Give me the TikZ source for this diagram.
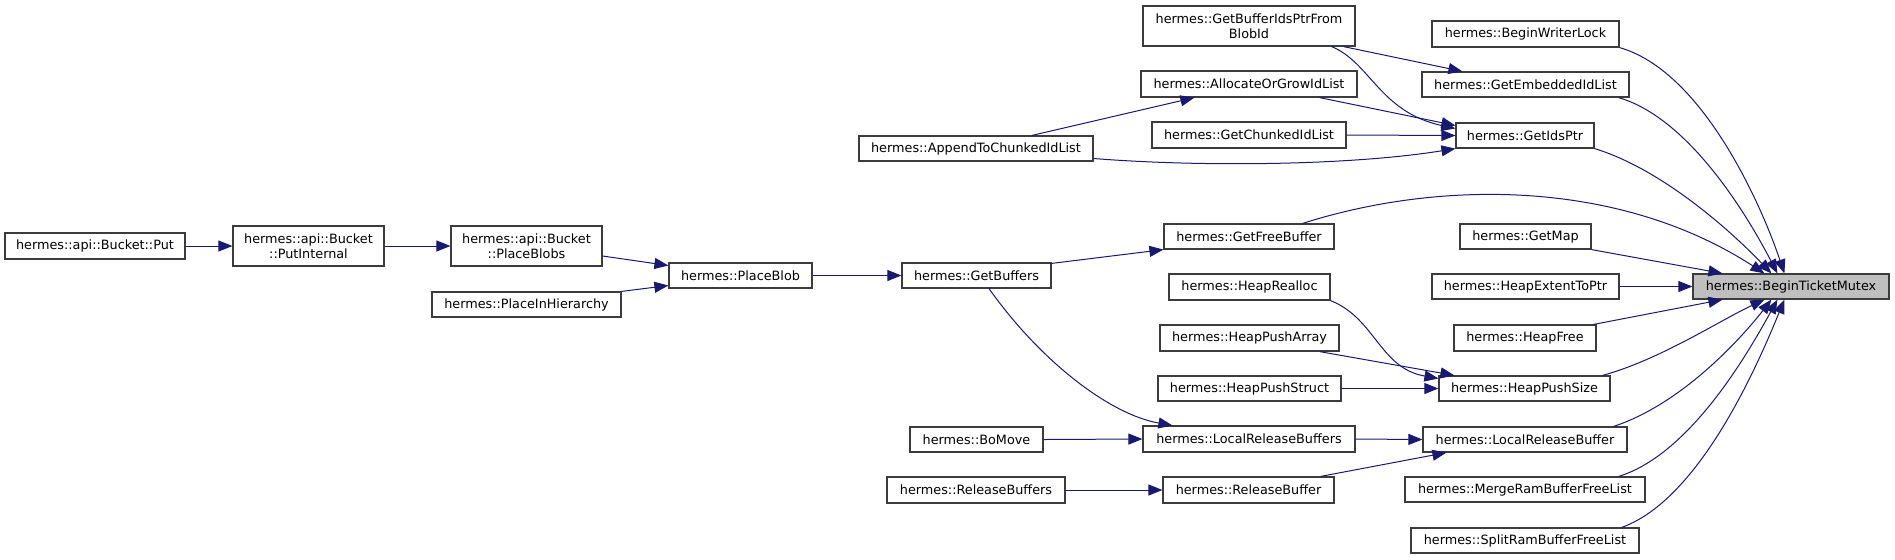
\documentclass[tikz,border=0pt]{standalone}
\usepackage{fontspec}
\setmainfont{DejaVu Sans}
\usetikzlibrary{arrows.meta,calc}
\definecolor{edgecol}{RGB}{25,25,112}
\definecolor{nodeborder}{RGB}{60,60,60}
\definecolor{hilite}{RGB}{191,191,191}
\begin{document}
\begin{tikzpicture}[x=0.5pt,y=-0.5pt,
  fn/.style={draw=nodeborder, fill=white, line width=0.6pt, inner sep=0pt, align=center,
    font=\fontsize{6.4}{7.5}\selectfont},
  sz/.style 2 args={minimum width=#1*0.5pt, minimum height=#2*0.5pt},
  ed/.style={draw=edgecol, line width=0.5pt, -{Triangle[length=7pt,width=5.5pt]}}]
\useasboundingbox (0,0) rectangle (1895,559);
% nodes
\node[fn,sz={180}{26}] (put) at (95,246) {hermes::api::Bucket::Put};
\node[fn,sz={151}{40}] (putint) at (308.5,246) {hermes::api::Bucket\\::PutInternal};
\node[fn,sz={151}{40}] (placeblobs) at (526.5,246) {hermes::api::Bucket\\::PlaceBlobs};
\node[fn,sz={189}{25}] (placeinh) at (526.5,304.5) {hermes::PlaceInHierarchy};
\node[fn,sz={143}{25}] (placeblob) at (740.5,275.5) {hermes::PlaceBlob};
\node[fn,sz={149}{25}] (getbuffers) at (976.5,275.5) {hermes::GetBuffers};
\node[fn,sz={234}{25}] (append) at (976,148.5) {hermes::AppendToChunkedIdList};
\node[fn,sz={133}{25}] (bomove) at (976.5,439.5) {hermes::BoMove};
\node[fn,sz={178}{26}] (relbufs) at (976,490) {hermes::ReleaseBuffers};
\node[fn,sz={212}{40}] (getbufids) at (1249,26) {hermes::GetBufferIdsPtrFrom\\BlobId};
\node[fn,sz={216}{26}] (alloc) at (1249,84) {hermes::AllocateOrGrowIdList};
\node[fn,sz={194}{26}] (getchunked) at (1249,135) {hermes::GetChunkedIdList};
\node[fn,sz={170}{25}] (getfree) at (1249,236.5) {hermes::GetFreeBuffer};
\node[fn,sz={161}{26}] (realloc) at (1249.5,287) {hermes::HeapRealloc};
\node[fn,sz={179}{26}] (pusharray) at (1249.5,338) {hermes::HeapPushArray};
\node[fn,sz={183}{25}] (pushstruct) at (1249.5,388.5) {hermes::HeapPushStruct};
\node[fn,sz={212}{26}] (localrelbufs) at (1249,439) {hermes::LocalReleaseBuffers};
\node[fn,sz={171}{26}] (relbuf) at (1248.5,490) {hermes::ReleaseBuffer};
\node[fn,sz={187}{26}] (writerlock) at (1525.5,34) {hermes::BeginWriterLock};
\node[fn,sz={207}{25}] (embedded) at (1525.5,84.5) {hermes::GetEmbeddedIdList};
\node[fn,sz={138}{25}] (getidsptr) at (1525,135.5) {hermes::GetIdsPtr};
\node[fn,sz={131}{25}] (getmap) at (1525.5,236.5) {hermes::GetMap};
\node[fn,sz={187}{25}] (heapextent) at (1525.5,286.5) {hermes::HeapExtentToPtr};
\node[fn,sz={142}{26}] (heapfree) at (1525,338) {hermes::HeapFree};
\node[fn,sz={171}{25}] (pushsize) at (1524.5,388.5) {hermes::HeapPushSize};
\node[fn,sz={204}{25}] (localrelbuf) at (1525,439.5) {hermes::LocalReleaseBuffer};
\node[fn,sz={240}{25}] (merge) at (1525,489.5) {hermes::MergeRamBufferFreeList};
\node[fn,sz={228}{25}] (split) at (1525,540.5) {hermes::SplitRamBufferFreeList};
\node[fn,fill=hilite,sz={196}{25}] (mutex) at (1791,286.5) {hermes::BeginTicketMutex};
% edges
\draw[ed] (put.east) -- (putint.west);
\draw[ed] (putint.east) -- (placeblobs.west);
\draw[ed] ($(placeblobs.east)+(0,10)$) -- ($(placeblob.west)+(0,-10)$);
\draw[ed] (placeinh.north east) -- ($(placeblob.west)+(0,10)$);
\draw[ed] (placeblob.east) -- (getbuffers.west);
\draw[ed] ($(getbuffers.north east)+(0,1)$) -- (getfree.south west);
\draw[ed] ($(getbuffers.south)+(12.5,0)$) .. controls +(51,72) and +(-63,-11) .. ($(localrelbufs.north west)+(30,0)$);
\draw[ed] (bomove.east) -- (localrelbufs.west);
\draw[ed] (relbufs.east) -- (relbuf.west);
\draw[ed] (localrelbufs.east) -- (localrelbuf.west);
\draw[ed] ($(relbuf.north east)+(-14,0)$) -- ($(localrelbuf.south west)+(24,0)$);
\draw[ed] ($(append.north)+(56,0)$) -- ($(alloc.south west)+(54,0)$);
\draw[ed] ($(append.east)+(0,10)$) .. controls +(107,8.5) and +(-106,17) .. (getidsptr.south west);
\draw[ed] ($(alloc.south east)+(-38,0)$) -- ($(getidsptr.west)+(0,-10)$);
\draw[ed] (getchunked.east) -- (getidsptr.west);
\draw[ed] ($(getbufids.south east)+(-24,0)$) .. controls +(39,16) and +(-76,-16.5) .. ($(getidsptr.west)+(0,-7)$);
\draw[ed] ($(getbufids.south east)+(-12,0)$) -- ($(embedded.north west)+(41,0)$);
\draw[ed] (realloc.south east) .. controls +(45,18) and +(-59,-10.5) .. ($(pushsize.west)+(0,-10)$);
\draw[ed] ($(pusharray.south east)+(-20,0)$) -- ($(pushsize.north west)+(16,0)$);
\draw[ed] (pushstruct.east) -- (pushsize.west);
% into BeginTicketMutex
\draw[ed] (writerlock.south east) .. controls +(81,23) and +(-25,-74) .. ($(mutex.north west)+(92,0)$);
\draw[ed] ($(embedded.south east)+(-11,0)$) .. controls +(72,21) and +(-28,-54) .. ($(mutex.north west)+(85,0)$);
\draw[ed] (getidsptr.south east) .. controls +(66,20) and +(-42,-44) .. ($(mutex.north west)+(79,0)$);
\draw[ed] ($(getfree.north east)+(-32,0)$) .. controls +(138,-44) and +(-145,-94) .. ($(mutex.north west)+(72,0)$);
\draw[ed] (getmap.south east) -- ($(mutex.north west)+(30,0)$);
\draw[ed] (heapextent.east) -- (mutex.west);
\draw[ed] ($(heapfree.north east)+(-3,0)$) -- ($(mutex.south west)+(30,0)$);
\draw[ed] ($(pushsize.north east)+(-8,0)$) .. controls +(58,-16) and +(-45,21) .. ($(mutex.south west)+(72,0)$);
\draw[ed] ($(localrelbuf.north east)+(-14,0)$) .. controls +(67,-22) and +(-32,41) .. ($(mutex.south west)+(79,0)$);
\draw[ed] ($(merge.north east)+(-27,0)$) .. controls +(72,-22) and +(-28,51) .. ($(mutex.south west)+(85,0)$);
\draw[ed] ($(split.north east)+(-18,0)$) .. controls +(79,-28) and +(-25,61) .. ($(mutex.south west)+(92,0)$);
\end{tikzpicture}
\end{document}
